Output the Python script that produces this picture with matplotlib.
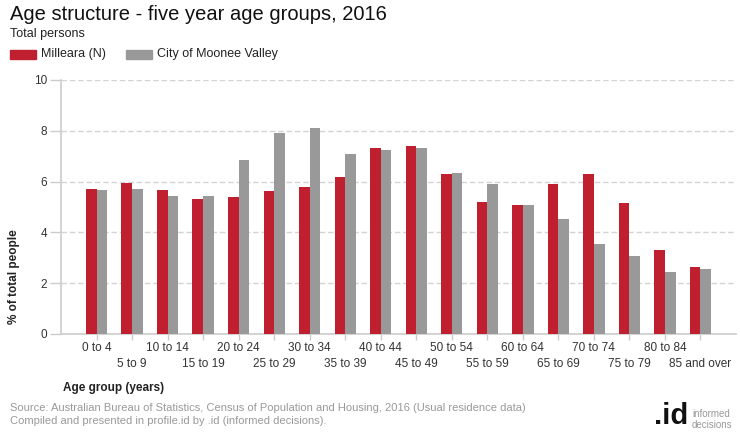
import numpy as np
import matplotlib.pyplot as plt

plt.rcParams['font.family'] = ['Liberation Sans', 'DejaVu Sans']

# Data (% of total people)
age_groups = ["0 to 4", "5 to 9", "10 to 14", "15 to 19", "20 to 24", "25 to 29",
              "30 to 34", "35 to 39", "40 to 44", "45 to 49", "50 to 54", "55 to 59",
              "60 to 64", "65 to 69", "70 to 74", "75 to 79", "80 to 84", "85 and over"]
milleara = [5.71, 5.94, 5.67, 5.31, 5.39, 5.63, 5.79, 6.18, 7.32,
            7.40, 6.30, 5.20, 5.08, 5.91, 6.30, 5.16, 3.31, 2.64]
moonee_valley = [5.67, 5.71, 5.43, 5.43, 6.85, 7.91, 8.11, 7.09, 7.24,
                 7.32, 6.34, 5.91, 5.08, 4.53, 3.54, 3.07, 2.44, 2.56]

red = '#C01F2F'
grey = '#999999'
axis_grey = '#CCCCCC'

fig = plt.figure(figsize=(7.4, 4.4), dpi=100)
ax = fig.add_axes([61/740, 1-334/440, 675/740, 254/440])

x = np.arange(len(age_groups))
w = 0.3
ax.bar(x - w/2, milleara, w, color=red, zorder=3)
ax.bar(x + w/2, moonee_valley, w, color=grey, zorder=3)

ax.set_xlim(-1, len(age_groups))
ax.set_ylim(0, 10)
ax.set_yticks([0, 2, 4, 6, 8, 10])
ax.yaxis.grid(True, color='#D3D3D3', linestyle=(0, (4, 2)), linewidth=1, zorder=0)

for s in ['top', 'right']:
    ax.spines[s].set_visible(False)
for s in ['left', 'bottom']:
    ax.spines[s].set_color(axis_grey)
    ax.spines[s].set_linewidth(1.2)

ax.tick_params(axis='y', colors=axis_grey, labelcolor='#333333', length=8,
               width=1, labelsize=8.5, pad=2)
ax.tick_params(axis='x', colors=axis_grey, length=4, width=1)
ax.set_xticks(x)
ax.set_xticklabels([])

# alternating two-row category labels
for i, lab in enumerate(age_groups):
    yoff = -0.033 if i % 2 == 0 else -0.094
    ax.text(i, yoff, lab, transform=ax.get_xaxis_transform(), ha='center',
            va='top', fontsize=8.5, color='#333333')

fig.text(14/740, 1-277/440, "% of total people", rotation=90, ha='center',
         va='center', fontsize=8.5, fontweight='bold', color='#222222')
fig.text(63/740, 1-388/440, "Age group (years)", ha='left', va='center',
         fontsize=8.5, fontweight='bold', color='#222222')

# header
fig.text(10/740, 1-14/440, "Age structure - five year age groups, 2016",
         ha='left', va='center', fontsize=14.5, color='#111111')
fig.text(10/740, 1-34/440, "Total persons", ha='left', va='center',
         fontsize=9, color='#222222')

# legend
fig.patches.append(plt.Rectangle((10/740, 1-59/440), 26/740, 9/440,
                                 transform=fig.transFigure, color=red))
fig.text(41/740, 1-54/440, "Milleara (N)", ha='left', va='center',
         fontsize=9, color='#222222')
fig.patches.append(plt.Rectangle((126/740, 1-59/440), 26/740, 9/440,
                                 transform=fig.transFigure, color=grey))
fig.text(157/740, 1-54/440, "City of Moonee Valley", ha='left', va='center',
         fontsize=9, color='#222222')

# source
fig.text(10/740, 1-408/440,
         "Source: Australian Bureau of Statistics, Census of Population and Housing, 2016 (Usual residence data)",
         ha='left', va='center', fontsize=8, color='#999999')
fig.text(10/740, 1-421/440,
         "Compiled and presented in profile.id by .id (informed decisions).",
         ha='left', va='center', fontsize=8, color='#999999')

# logo
fig.text(688/740, 1-416/440, ".id", ha='right', va='center', fontsize=21,
         fontweight='bold', color='#111111')
fig.text(692/740, 1-414/440, "informed", ha='left', va='center', fontsize=7,
         color='#999999')
fig.text(692/740, 1-425/440, "decisions", ha='left', va='center', fontsize=7,
         color='#999999')

fig.savefig("out.png", dpi=100)
